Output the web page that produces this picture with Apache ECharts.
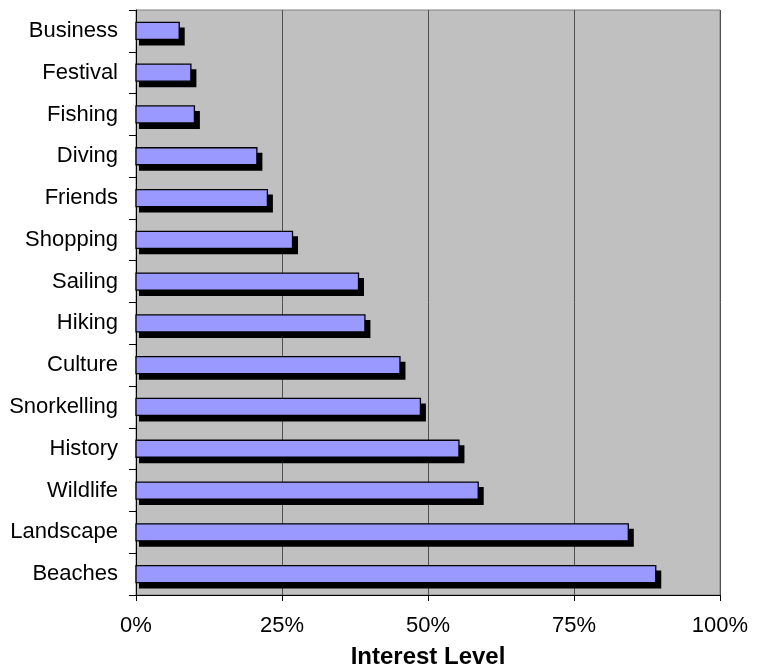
<!DOCTYPE html>
<html>
<head>
<meta charset="utf-8">
<script src="https://cdn.jsdelivr.net/npm/echarts@6/dist/echarts.min.js"></script>
<style>
  html, body { margin: 0; padding: 0; background: #fff; }
  #chart { width: 760px; height: 669px; }
</style>
</head>
<body>
<div id="chart"></div>
<script>
// categories top to bottom
var activities = ['Business', 'Festival', 'Fishing', 'Diving', 'Friends', 'Shopping', 'Sailing',
  'Hiking', 'Culture', 'Snorkelling', 'History', 'Wildlife', 'Landscape', 'Beaches'];
// interest level, percent
var interest = [7.4, 9.4, 10.0, 20.7, 22.5, 26.8, 38.1, 39.2, 45.2, 48.7, 55.3, 58.6, 84.3, 89.0];
var xTicks = [0, 25, 50, 75, 100];

var FONT = 'Liberation Sans, Arial, sans-serif';
var chart = echarts.init(document.getElementById('chart'));

// bar with a hard black drop shadow, like the old excel look
function renderBar(params, api) {
  var cat = api.value(1);
  var start = api.coord([0, cat]);
  var end = api.coord([api.value(0), cat]);
  var h = 17;
  var len = end[0] - start[0];
  var top = start[1] - h / 2;
  return {
    type: 'group',
    children: [{
      type: 'rect',
      shape: { x: start[0] + 3, y: top + 5, width: len + 2.5, height: h + 1 },
      style: { fill: '#000' }
    }, {
      type: 'rect',
      shape: { x: start[0], y: top, width: len, height: h },
      style: { fill: '#9999FF', stroke: '#000', lineWidth: 1.3 }
    }]
  };
}

var option = {
  animation: false,
  grid: {
    left: 136,
    right: 40,
    top: 10,
    bottom: 74,
    outerBoundsMode: 'none',
    containLabel: false,
    show: true,
    backgroundColor: '#C0C0C0',
    borderColor: '#808080',
    borderWidth: 1
  },
  xAxis: {
    type: 'value',
    min: xTicks[0],
    max: xTicks[xTicks.length - 1],
    interval: 25,
    name: 'Interest Level',
    nameLocation: 'middle',
    nameGap: 50,
    nameTextStyle: {
      fontFamily: FONT,
      fontSize: 24,
      fontWeight: 'bold',
      color: '#000'
    },
    axisLine: { show: true, lineStyle: { color: '#000', width: 1 } },
    axisTick: { show: true, length: 6, lineStyle: { color: '#000' } },
    axisLabel: {
      margin: 20,
      fontFamily: FONT,
      fontSize: 22,
      color: '#000',
      formatter: '{value}%'
    },
    splitLine: { show: true, lineStyle: { color: '#505050', width: 1 } }
  },
  yAxis: {
    type: 'category',
    inverse: true,
    data: activities,
    axisLine: { show: true, lineStyle: { color: '#000', width: 1 } },
    axisTick: { show: true, length: 7, lineStyle: { color: '#000' } },
    axisLabel: {
      margin: 18,
      fontFamily: FONT,
      fontSize: 22,
      color: '#000'
    },
    splitLine: { show: false }
  },
  series: [{
    type: 'custom',
    renderItem: renderBar,
    encode: { x: 0, y: 1 },
    data: interest.map(function (v, i) { return [v, i]; })
  }]
};

chart.setOption(option);
</script>
</body>
</html>
